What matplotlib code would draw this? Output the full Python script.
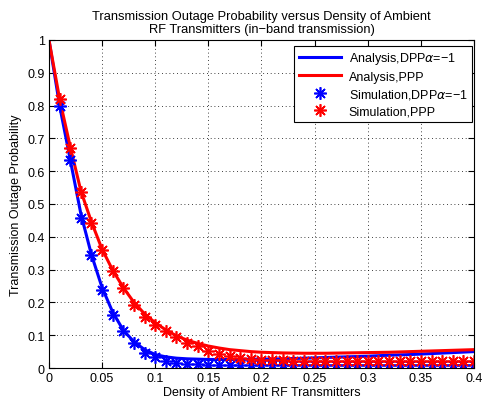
import numpy as np
import matplotlib
matplotlib.use("Agg")
import matplotlib.pyplot as plt

plt.rcParams['font.family'] = ['Liberation Sans', 'DejaVu Sans']

# analytical curves (step 0.01)
x_line = [0.00, 0.01, 0.02, 0.03, 0.04, 0.05, 0.06, 0.07, 0.08, 0.09, 0.10,
          0.11, 0.12, 0.13, 0.14, 0.15, 0.16, 0.17, 0.18, 0.19, 0.20,
          0.22, 0.24, 0.26, 0.28, 0.30, 0.32, 0.34, 0.36, 0.38, 0.40]
dpp_line = [1.0, 0.80, 0.635, 0.47, 0.345, 0.245, 0.17, 0.115, 0.08, 0.056, 0.041,
            0.034, 0.030, 0.028, 0.027, 0.026, 0.026, 0.026, 0.026, 0.027, 0.027,
            0.028, 0.030, 0.032, 0.034, 0.036, 0.039, 0.041, 0.044, 0.047, 0.050]
ppp_line = [1.0, 0.82, 0.675, 0.54, 0.445, 0.362, 0.298, 0.245, 0.200, 0.165, 0.138,
            0.116, 0.098, 0.085, 0.075, 0.067, 0.061, 0.056, 0.053, 0.050, 0.048,
            0.046, 0.045, 0.045, 0.046, 0.047, 0.048, 0.050, 0.052, 0.054, 0.056]

# simulation points
x_sim = [0.01, 0.02, 0.03, 0.04, 0.05, 0.06, 0.07, 0.08, 0.09, 0.10,
         0.11, 0.12, 0.13, 0.14, 0.15, 0.16, 0.17, 0.18, 0.19, 0.20,
         0.21, 0.22, 0.23, 0.24, 0.25, 0.26, 0.27, 0.28, 0.29, 0.30,
         0.31, 0.32, 0.33, 0.34, 0.35, 0.36, 0.37, 0.38, 0.39, 0.40]
dpp_sim = [0.80, 0.634, 0.458, 0.343, 0.238, 0.163, 0.114, 0.075, 0.046, 0.033,
           0.020, 0.014, 0.012, 0.011, 0.010, 0.010, 0.010, 0.010, 0.010, 0.010,
           0.010, 0.010, 0.010, 0.010, 0.010, 0.010, 0.010, 0.010, 0.010, 0.010,
           0.010, 0.010, 0.010, 0.010, 0.010, 0.010, 0.010, 0.010, 0.010, 0.010]
ppp_sim = [0.82, 0.672, 0.537, 0.443, 0.361, 0.297, 0.243, 0.193, 0.155, 0.131,
           0.113, 0.095, 0.077, 0.067, 0.051, 0.043, 0.036, 0.031, 0.027, 0.025,
           0.024, 0.023, 0.022, 0.022, 0.022, 0.021, 0.021, 0.021, 0.021, 0.021,
           0.021, 0.021, 0.021, 0.021, 0.021, 0.021, 0.021, 0.021, 0.021, 0.021]

xticks = [0, 0.05, 0.1, 0.15, 0.2, 0.25, 0.3, 0.35, 0.4]
xtick_labels = ['0', '0.05', '0.1', '0.15', '0.2', '0.25', '0.3', '0.35', '0.4']
yticks = [0, 0.1, 0.2, 0.3, 0.4, 0.5, 0.6, 0.7, 0.8, 0.9, 1]
ytick_labels = ['0', '0.1', '0.2', '0.3', '0.4', '0.5', '0.6', '0.7', '0.8', '0.9', '1']

fig = plt.figure(figsize=(4.83, 4.06), dpi=100)
ax = fig.add_axes([0.1014, 0.0911, 0.880, 0.808])

ast = (8, 2, 0)  # asterisk like matlab '*'
ax.plot(x_line, dpp_line, color='#0000ff', lw=2.2, label='Analysis,DPP$\\alpha$=\u22121')
ax.plot(x_line, ppp_line, color='#ff0000', lw=2.2, label='Analysis,PPP')
ax.plot(x_sim, dpp_sim, ls='none', marker=ast, ms=9, mew=1.2, color='#0000ff',
        label='Simulation,DPP$\\alpha$=\u22121')
ax.plot(x_sim, ppp_sim, ls='none', marker=ast, ms=9, mew=1.2, color='#ff0000',
        label='Simulation,PPP')

ax.set_xlim(0, 0.4)
ax.set_ylim(0, 1)
ax.set_xticks(xticks)
ax.set_xticklabels(xtick_labels)
ax.set_yticks(yticks)
ax.set_yticklabels(ytick_labels)
ax.tick_params(direction='in', top=True, right=True, labelsize=9, length=4, pad=3)
ax.grid(True, ls=(0, (1, 3.5)), color='black', lw=0.6)
for s in ax.spines.values():
    s.set_linewidth(0.8)

ax.set_xlabel('Density of Ambient RF Transmitters', fontsize=9, labelpad=1)
ax.set_ylabel('Transmission Outage Probability', fontsize=9, labelpad=4)
ax.set_title('Transmission Outage Probability versus Density of Ambient\nRF Transmitters (in\u2212band transmission)',
             fontsize=9.3, pad=6, linespacing=1.1)

leg = ax.legend(loc='upper right', bbox_to_anchor=(0.995, 0.982), fontsize=9,
                frameon=True, fancybox=False, edgecolor='black', framealpha=1,
                handlelength=3.4, borderpad=0.35, labelspacing=0.35, handletextpad=0.6,
                borderaxespad=0)
leg.get_frame().set_linewidth(0.8)

fig.savefig('out.png', dpi=100)
